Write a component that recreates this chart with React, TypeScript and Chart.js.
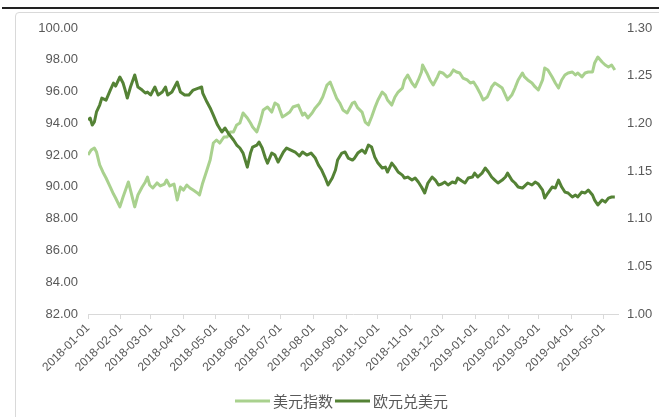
import React, { useEffect, useRef } from "react";
import { Chart, registerables } from "chart.js";

Chart.register(...registerables);

const tickLabels = [
  "2018-01-01", "2018-02-01", "2018-03-01", "2018-04-01", "2018-05-01", "2018-06-01",
  "2018-07-01", "2018-08-01", "2018-09-01", "2018-10-01", "2018-11-01", "2018-12-01",
  "2019-01-01", "2019-02-01", "2019-03-01", "2019-04-01", "2019-05-01",
];

const seriesNames = ["美元指数", "欧元兑美元"];

// day offsets from 2018-01-01
const usdDays = [
  0, 3, 6, 8, 11, 14, 17, 21, 24, 26, 30, 33, 36, 38, 40, 44, 47, 51, 54, 56, 58, 61, 65, 68, 72, 74, 77, 81, 84, 87,
  90, 93, 96, 99, 103, 105, 108, 112, 115, 118, 121, 124, 128, 131, 134, 137, 140, 143, 146, 150, 153, 155, 159, 162,
  165, 169, 173, 176, 179, 183, 186, 190, 193, 198, 202, 204, 207, 211, 214, 218, 221, 225, 228, 231, 234, 237, 240,
  244, 249, 251, 254, 258, 261, 264, 267, 270, 273, 277, 280, 282, 286, 289, 292, 296, 298, 301, 305, 308, 311, 314,
  315, 319, 322, 325, 329, 331, 334, 338, 341, 344, 347, 350, 353, 357, 360, 363, 366, 369, 372, 376, 379, 380, 383,
  386, 390, 393, 395, 399, 402, 405, 409, 411, 414, 418, 421, 424, 428, 430, 433, 437, 440, 443, 446, 449, 452, 456,
  459, 461, 465, 468, 471, 475, 477, 480, 484, 487, 490, 493, 496,
];
const usdValues = [
  92.01, 92.32, 92.45, 92.2, 91.38, 90.94, 90.56, 89.99, 89.55, 89.3, 88.74, 89.36, 89.93, 90.31, 89.8, 88.74, 89.49,
  89.99, 90.31, 90.62, 90.12, 89.93, 90.25, 90.06, 90.18, 90.43, 90.06, 90.18, 89.18, 89.99, 89.8, 90.12, 89.93, 89.8,
  89.62, 89.49, 90.25, 91.06, 91.69, 92.76, 92.95, 92.76, 93.14, 93.14, 93.46, 93.46, 93.9, 94.02, 94.65, 94.34, 94.02,
  93.77, 93.46, 94.08, 94.84, 95.03, 94.71, 95.28, 95.15, 94.4, 94.52, 94.71, 95.03, 95.15, 94.52, 94.65, 94.34, 94.65,
  94.97, 95.28, 95.66, 96.41, 96.6, 96.1, 95.59, 95.28, 94.84, 94.65, 95.28, 95.34, 94.97, 94.71, 94.08, 93.9, 94.4,
  94.97, 95.47, 95.97, 95.78, 95.47, 95.15, 95.66, 95.97, 96.22, 96.73, 97.04, 96.54, 96.29, 96.73, 97.23, 97.67, 97.17,
  96.73, 96.41, 96.92, 97.23, 97.17, 96.92, 97.04, 97.36, 97.23, 97.17, 96.85, 96.73, 96.54, 96.6, 96.29, 95.91, 95.47,
  95.66, 96.1, 96.29, 96.54, 96.41, 96.22, 95.78, 95.47, 95.78, 96.22, 96.73, 97.17, 96.92, 96.73, 96.54, 96.29, 96.1,
  96.73, 97.48, 97.36, 96.92, 96.54, 96.22, 96.73, 97.04, 97.17, 97.23, 97.04, 97.17, 96.92, 97.17, 97.23, 97.23, 97.8,
  98.17, 97.86, 97.67, 97.55, 97.67, 97.36,
];

const eurDays = [
  0, 2, 4, 6, 8, 11, 13, 17, 21, 24, 26, 30, 33, 35, 37, 40, 44, 47, 51, 54, 56, 59, 63, 66, 70, 73, 75, 79, 84, 87, 91,
  95, 99, 104, 107, 108, 112, 115, 118, 122, 126, 129, 132, 137, 140, 143, 146, 150, 153, 155, 159, 161, 164, 167, 169,
  173, 176, 179, 184, 187, 191, 195, 199, 202, 206, 210, 214, 217, 220, 223, 226, 230, 233, 235, 239, 242, 245, 249,
  251, 254, 258, 261, 264, 267, 270, 273, 277, 280, 282, 286, 289, 292, 296, 298, 301, 305, 308, 311, 314, 317, 320,
  324, 327, 330, 333, 336, 339, 343, 346, 348, 352, 355, 358, 362, 364, 367, 371, 374, 377, 380, 383, 386, 390, 393,
  395, 399, 402, 405, 409, 411, 414, 418, 421, 424, 428, 430, 433, 437, 440, 443, 446, 449, 452, 456, 459, 461, 465,
  468, 471, 475, 477, 480, 484, 487, 490, 493, 496,
];
const eurValues = [
  1.2035, 1.2056, 1.1982, 1.2014, 1.2119, 1.2192, 1.2265, 1.2244, 1.2349, 1.2423, 1.2391, 1.2486, 1.2423, 1.2349,
  1.2265, 1.2381, 1.2507, 1.2381, 1.2349, 1.2318, 1.2328, 1.2297, 1.2381, 1.2297, 1.2328, 1.2381, 1.2297, 1.2328,
  1.2433, 1.2328, 1.2297, 1.2297, 1.2349, 1.237, 1.2381, 1.2318, 1.2223, 1.2161, 1.2087, 1.1982, 1.1909, 1.1951,
  1.1898, 1.1825, 1.1772, 1.1741, 1.1688, 1.1541, 1.1688, 1.1751, 1.1772, 1.1804, 1.1741, 1.1636, 1.1583, 1.1688,
  1.1667, 1.1594, 1.1699, 1.1741, 1.172, 1.1699, 1.1657, 1.1699, 1.1667, 1.1688, 1.1636, 1.1562, 1.151, 1.1437,
  1.1353, 1.1426, 1.151, 1.1615, 1.1688, 1.1699, 1.1636, 1.1615, 1.1636, 1.1688, 1.172, 1.1688, 1.1772, 1.1751,
  1.1646, 1.1583, 1.1531, 1.1541, 1.1489, 1.1583, 1.1541, 1.1489, 1.1457, 1.1426, 1.1436, 1.1405, 1.1426, 1.1384,
  1.1332, 1.1269, 1.1374, 1.1437, 1.1405, 1.1353, 1.1363, 1.1384, 1.1353, 1.1384, 1.1374, 1.1426, 1.1395, 1.1374,
  1.1426, 1.1437, 1.1478, 1.1437, 1.1478, 1.1531, 1.1489, 1.1437, 1.1405, 1.1374, 1.1405, 1.1437, 1.1478, 1.1405,
  1.1374, 1.1332, 1.1321, 1.1342, 1.1374, 1.1353, 1.1384, 1.1363, 1.13, 1.1216, 1.1269, 1.1332, 1.1321, 1.1405,
  1.1332, 1.1279, 1.1269, 1.1227, 1.1248, 1.1227, 1.1279, 1.1269, 1.13, 1.1248, 1.1195, 1.1143, 1.1195, 1.1174,
  1.1216, 1.1227, 1.1227,
];

const LIGHT = "#A9D18E";
const DARK = "#548235";
const TEXT = "#595959";

const dayMs = 86400000;
const base = Date.UTC(2018, 0, 1);
const tickDays = tickLabels.map((s) => {
  const [y, m, d] = s.split("-").map(Number);
  return Math.round((Date.UTC(y, m - 1, d) - base) / dayMs);
});

const legendPlugin = {
  id: "bottomLegend",
  afterDraw(chart: any) {
    const ctx = chart.ctx;
    ctx.save();
    ctx.font = '15px "Noto Sans CJK SC"';
    ctx.textBaseline = "middle";
    let x = 235;
    const y = 401;
    chart.data.datasets.forEach((ds: any) => {
      ctx.strokeStyle = ds.borderColor;
      ctx.lineWidth = 3;
      ctx.beginPath();
      ctx.moveTo(x, y);
      ctx.lineTo(x + 35, y);
      ctx.stroke();
      ctx.fillStyle = TEXT;
      ctx.fillText(ds.label, x + 38, y);
      x += 38 + ctx.measureText(ds.label).width + 2;
    });
    ctx.restore();
  },
};

export default function App() {
  const ref = useRef<HTMLCanvasElement>(null);
  useEffect(() => {
    const canvas = ref.current!;
    const chart = new Chart(canvas, {
      type: "line",
      data: {
        datasets: [
          {
            label: seriesNames[0],
            data: usdDays.map((d, i) => ({ x: d, y: usdValues[i] })),
            borderColor: LIGHT,
            backgroundColor: LIGHT,
            borderWidth: 3,
            pointRadius: 0,
            tension: 0,
            yAxisID: "y",
            order: 1,
            borderJoinStyle: "round",
          },
          {
            label: seriesNames[1],
            data: eurDays.map((d, i) => ({ x: d, y: eurValues[i] })),
            borderColor: DARK,
            backgroundColor: DARK,
            borderWidth: 3,
            pointRadius: 0,
            tension: 0,
            yAxisID: "y1",
            order: 0,
            borderJoinStyle: "round",
          },
        ],
      },
      options: {
        responsive: false,
        animation: false,
        layout: { padding: { top: 28, left: 0, right: 0, bottom: 0 } },
        plugins: { legend: { display: false }, tooltip: { enabled: false } },
        scales: {
          x: {
            type: "linear",
            min: 0,
            max: 499,
            afterBuildTicks: (scale: any) => {
              scale.ticks = tickDays.map((v) => ({ value: v }));
            },
            afterFit: (scale: any) => {
              scale.height = 103;
            },
            ticks: {
              autoSkip: false,
              minRotation: 45,
              maxRotation: 45,
              padding: 2,
              color: TEXT,
              font: { family: '"Liberation Sans", sans-serif', size: 12 },
              callback: (v: any) => {
                const i = tickDays.indexOf(Number(v));
                return i >= 0 ? tickLabels[i] : "";
              },
            },
            grid: { drawOnChartArea: false, drawTicks: true, tickLength: 5, color: "#d9d9d9" },
            border: { display: true, color: "#d9d9d9" },
          },
          y: {
            position: "left",
            min: 82,
            max: 100,
            afterFit: (scale: any) => {
              scale.width = 88;
            },
            ticks: {
              stepSize: 2,
              padding: 10,
              color: TEXT,
              font: { family: '"Liberation Sans", sans-serif', size: 13 },
              callback: (v: any) => Number(v).toFixed(2),
            },
            grid: { display: false, drawTicks: false },
            border: { display: false },
          },
          y1: {
            position: "right",
            min: 1.0,
            max: 1.3,
            afterFit: (scale: any) => {
              scale.width = 41;
            },
            ticks: {
              stepSize: 0.05,
              padding: 9,
              color: TEXT,
              font: { family: '"Liberation Sans", sans-serif', size: 13 },
              callback: (v: any) => Number(v).toFixed(2),
            },
            grid: { display: false, drawTicks: false },
            border: { display: false },
          },
        },
      },
      plugins: [legendPlugin],
    } as any);
    return () => chart.destroy();
  }, []);

  return (
    <div
      style={{
        position: "fixed",
        left: 0,
        top: 0,
        width: 659,
        height: 417,
        background: "#fff",
        overflow: "hidden",
      }}
    >
      <div style={{ position: "absolute", left: 2, right: 0, top: 7, height: 2, background: "#222" }} />
      <div
        style={{
          position: "absolute",
          left: 15,
          top: 12,
          width: 720,
          height: 480,
          border: "1px solid #d9d9d9",
          borderRadius: 4,
        }}
      />
      <canvas ref={ref} width={659} height={417} style={{ position: "absolute", left: 0, top: 0 }} />
    </div>
  );
}
